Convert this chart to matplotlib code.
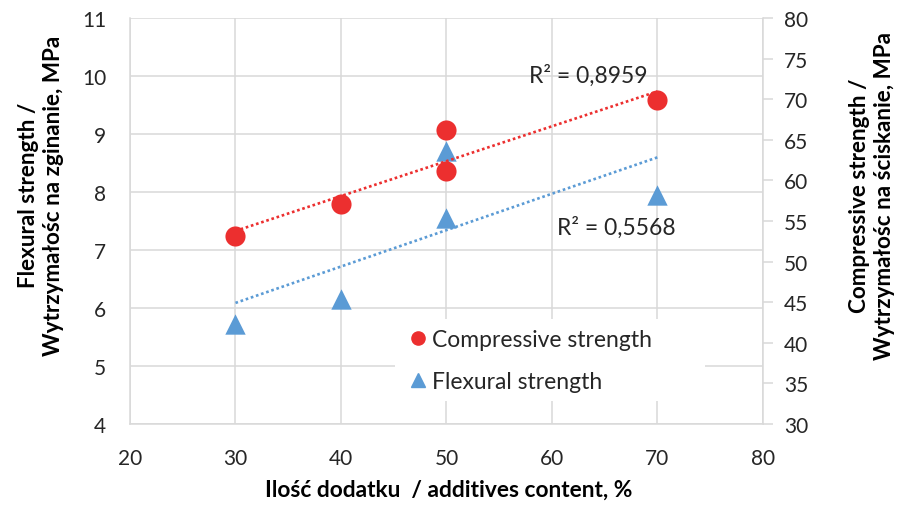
import numpy as np
import matplotlib
matplotlib.use("Agg")
import matplotlib.pyplot as plt
from matplotlib.lines import Line2D
from matplotlib.patches import Rectangle

plt.rcParams['font.family'] = ['Lato', 'DejaVu Sans']

# data
content_comp = [30, 40, 50, 50, 70]
compressive = [53.2, 57.1, 66.25, 61.1, 69.9]
content_flex = [30, 40, 50, 50, 70]
flexural = [5.72, 6.155, 8.70, 7.56, 7.95]

x_ticks = [20, 30, 40, 50, 60, 70, 80]
left_ticks = [4, 5, 6, 7, 8, 9, 10, 11]
right_ticks = [30, 35, 40, 45, 50, 55, 60, 65, 70, 75, 80]

RED = '#ec2f2f'
BLUE = '#5b9bd5'
GRID = '#d9d9d9'
TXT = '#262626'

fig = plt.figure(figsize=(8.99, 5.10), dpi=100)
ax1 = fig.add_axes([0.1446, 0.1667, 0.704, 0.796])
ax2 = ax1.twinx()

# linear trend lines
def trend(x, y):
    x = np.asarray(x, float)
    y = np.asarray(y, float)
    k, b = np.polyfit(x, y, 1)
    xs = np.array([x.min(), x.max()])
    return xs, k * xs + b

xf, yf = trend(content_flex, flexural)
xc, yc = trend(content_comp, compressive)

dots = (0, (1, 1.05))
ax1.plot(xf, yf, linestyle=dots, color=BLUE, lw=1.9, zorder=2)
ax1.scatter(content_flex, flexural, marker='^', s=215, color=BLUE, zorder=3,
            linewidths=0)
ax2.plot(xc, yc, linestyle=dots, color=RED, lw=1.9, zorder=2)
ax2.scatter(content_comp, compressive, marker='o', s=210, color=RED, zorder=3,
            linewidths=0)

ax1.set_xlim(20, 80)
ax1.set_ylim(4, 11)
ax2.set_ylim(30, 80)
ax1.set_xticks(x_ticks)
ax1.set_yticks(left_ticks)
ax2.set_yticks(right_ticks)

ax1.grid(True, color=GRID, lw=1.1)
ax1.set_axisbelow(True)
for sp in ['top', 'right']:
    ax1.spines[sp].set_visible(False)
for sp in ['top', 'left', 'bottom']:
    ax2.spines[sp].set_visible(False)
for sp in ['left', 'bottom']:
    ax1.spines[sp].set_color(GRID)
    ax1.spines[sp].set_linewidth(1.1)
ax2.spines['right'].set_color(GRID)
ax2.spines['right'].set_linewidth(1.1)

ax1.tick_params(axis='both', length=0, labelsize=15, colors=TXT)
ax1.tick_params(axis='y', pad=17)
ax1.tick_params(axis='x', pad=17)
ax2.tick_params(axis='y', length=7, width=1.1, color=GRID, pad=8,
                labelsize=15, labelcolor=TXT)

ax1.set_xlabel('Ilość dodatku  / additives content, %', fontsize=16.4,
               fontweight='bold', color='black')
ax1.xaxis.set_label_coords(0.504, -0.135)
ax1.set_ylabel('Flexural strength /\nWytrzymałośc na zginanie, MPa',
               fontsize=16.2, fontweight='bold', color='black',
               linespacing=1.25)
ax1.yaxis.set_label_coords(-0.104, 0.565)
ax2.set_ylabel('Compressive strength /\nWytrzymałośc na ściskanie, MPa',
               fontsize=16.2, fontweight='bold', color='black',
               linespacing=1.25)
ax2.yaxis.set_label_coords(1.136, 0.565)

ax1.text(69.1, 10.02, 'R² = 0,8959', ha='right', va='center',
         fontsize=16.5, color=TXT)
ax1.text(71.7, 7.4, 'R² = 0,5568', ha='right', va='center',
         fontsize=16.5, color=TXT)

# white legend background hiding the grid
ax2.add_patch(Rectangle((0.419, 0.057), 0.489, 0.202, transform=ax2.transAxes,
                        facecolor='white', edgecolor='none', zorder=1))

handles = [
    Line2D([], [], marker='o', ls='none', color=RED, markersize=9.5),
    Line2D([], [], marker='^', ls='none', color=BLUE, markersize=9.5),
]
leg = ax2.legend(handles, ['Compressive strength', 'Flexural strength'],
                 loc='upper left', bbox_to_anchor=(0.43, 0.25),
                 frameon=False, fontsize=16.5, handletextpad=0.2,
                 labelspacing=0.88, borderpad=0.3, handlelength=0.8,
                 borderaxespad=0)
for t in leg.get_texts():
    t.set_color(TXT)

fig.savefig('out.png', dpi=100)
